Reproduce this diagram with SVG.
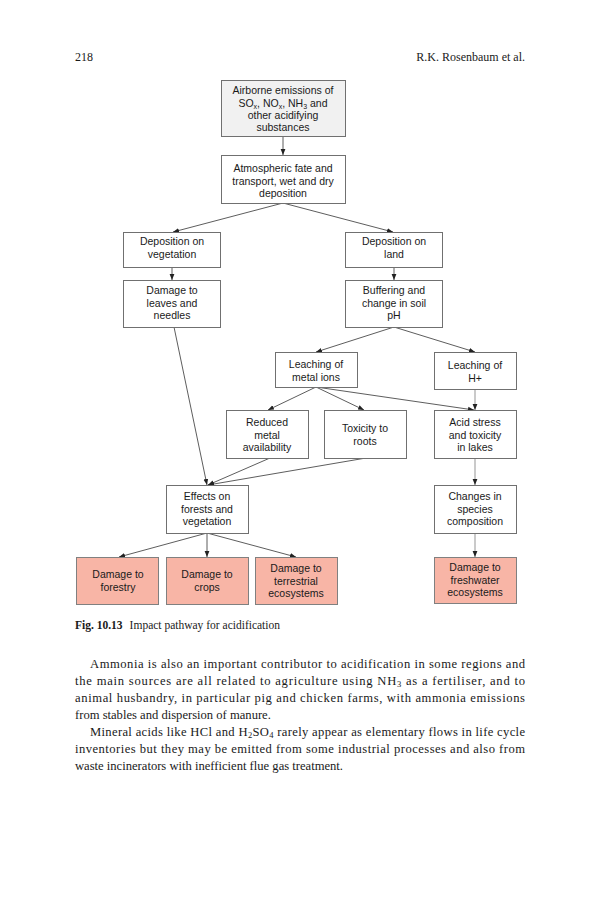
<svg xmlns="http://www.w3.org/2000/svg" width="593" height="900" viewBox="0 0 593 900">
<defs>
<marker id="ah" viewBox="0 0 6 6" refX="6" refY="3" markerWidth="6" markerHeight="6" markerUnits="userSpaceOnUse" orient="auto">
<path d="M0,0.6 L6,3 L0,5.4 Z" fill="#222"/>
</marker>
<style>
.bx{fill:#ffffff;stroke:#707070;stroke-width:1}
.gr{fill:#f1f1f1;stroke:#707070;stroke-width:1}
.pk{fill:#f8b5a6;stroke:#808080;stroke-width:1}
.t{font-family:"Liberation Sans",Arial,sans-serif;font-size:10.5px;fill:#1a1a1a;text-anchor:middle}
.c{fill:none;stroke:#333;stroke-width:0.8;marker-end:url(#ah)}
.g{fill:none;stroke:#bdbdbd;stroke-width:1.6;marker-end:url(#ah)}
.s{font-family:"Liberation Serif","Times New Roman",serif;fill:#1a1a1a}
</style>
</defs>
<rect width="593" height="900" fill="#ffffff"/>
<text class="s" x="75" y="61" font-size="12">218</text>
<text class="s" x="525" y="61" font-size="12" text-anchor="end">R.K. Rosenbaum et al.</text>

<g id="connectors">
<line class="c" x1="283" y1="137" x2="283" y2="155"/>
<line class="c" x1="283" y1="203" x2="173" y2="232"/>
<line class="c" x1="283" y1="203" x2="393" y2="232"/>
<line class="c" x1="172" y1="267" x2="172" y2="280"/>
<line class="c" x1="394" y1="267" x2="394" y2="280"/>
<line class="c" x1="174" y1="327" x2="207" y2="485"/>
<line class="c" x1="394" y1="327" x2="316" y2="352"/>
<line class="c" x1="394" y1="327" x2="475" y2="352"/>
<line class="c" x1="316" y1="387" x2="268" y2="410"/>
<line class="c" x1="316" y1="387" x2="364" y2="410"/>
<line class="c" x1="316" y1="387" x2="474" y2="410"/>
<line class="g" x1="475" y1="389" x2="475" y2="410"/>
<line class="c" x1="270" y1="458" x2="208" y2="485"/>
<line class="c" x1="366" y1="458" x2="208" y2="485"/>
<line class="g" x1="475" y1="458" x2="475" y2="485"/>
<line class="c" x1="207" y1="533" x2="119" y2="557"/>
<line class="c" x1="207" y1="533" x2="207" y2="557"/>
<line class="c" x1="207" y1="533" x2="296" y2="557"/>
<line class="g" x1="475" y1="533" x2="475" y2="557"/>
</g>

<g id="n1"><rect class="gr" x="221.5" y="80.5" width="124" height="56"/>
<text class="t" x="283" y="94">Airborne emissions of</text>
<text class="t" x="283" y="106.5">SO<tspan font-size="7" dy="2">x</tspan><tspan dy="-2">, NO</tspan><tspan font-size="7" dy="2">x</tspan><tspan dy="-2">, NH</tspan><tspan font-size="7" dy="2">3</tspan><tspan dy="-2"> and</tspan></text>
<text class="t" x="283" y="119">other acidifying</text>
<text class="t" x="283" y="131">substances</text></g>

<g id="n2"><rect class="bx" x="221.5" y="155.5" width="124" height="48"/>
<text class="t" x="283" y="172">Atmospheric fate  and</text>
<text class="t" x="283" y="184.5">transport, wet and dry</text>
<text class="t" x="283" y="197">deposition</text></g>

<g id="n3"><rect class="bx" x="123.5" y="232.5" width="97" height="35"/>
<text class="t" x="172" y="245">Deposition on</text>
<text class="t" x="172" y="258">vegetation</text></g>

<g id="n4"><rect class="bx" x="123.5" y="280.5" width="97" height="47"/>
<text class="t" x="172" y="294">Damage to</text>
<text class="t" x="172" y="306.5">leaves and</text>
<text class="t" x="172" y="319">needles</text></g>

<g id="n5"><rect class="bx" x="345.5" y="232.5" width="97" height="35"/>
<text class="t" x="394" y="245">Deposition on</text>
<text class="t" x="394" y="258">land</text></g>

<g id="n6"><rect class="bx" x="345.5" y="280.5" width="97" height="47"/>
<text class="t" x="394" y="294">Buffering and</text>
<text class="t" x="394" y="306.5">change in soil</text>
<text class="t" x="394" y="319">pH</text></g>

<g id="n7"><rect class="bx" x="275.5" y="352.5" width="82" height="35"/>
<text class="t" x="316" y="368">Leaching of</text>
<text class="t" x="316" y="381">metal ions</text></g>

<g id="n8"><rect class="bx" x="434.5" y="352.5" width="82" height="37"/>
<text class="t" x="475" y="369">Leaching of</text>
<text class="t" x="475" y="382">H+</text></g>

<g id="n9"><rect class="bx" x="226.5" y="410.5" width="82" height="48"/>
<text class="t" x="267" y="426">Reduced</text>
<text class="t" x="267" y="438.5">metal</text>
<text class="t" x="267" y="451">availability</text></g>

<g id="n10"><rect class="bx" x="324.5" y="410.5" width="82" height="48"/>
<text class="t" x="365" y="432">Toxicity to</text>
<text class="t" x="365" y="445">roots</text></g>

<g id="n11"><rect class="bx" x="434.5" y="410.5" width="82" height="48"/>
<text class="t" x="475" y="426">Acid stress</text>
<text class="t" x="475" y="438.5">and toxicity</text>
<text class="t" x="475" y="451">in lakes</text></g>

<g id="n12"><rect class="bx" x="166.5" y="485.5" width="82" height="48"/>
<text class="t" x="207" y="500">Effects on</text>
<text class="t" x="207" y="512.5">forests and</text>
<text class="t" x="207" y="525">vegetation</text></g>

<g id="n13"><rect class="bx" x="434.5" y="485.5" width="82" height="48"/>
<text class="t" x="475" y="500">Changes in</text>
<text class="t" x="475" y="512.5">species</text>
<text class="t" x="475" y="525">composition</text></g>

<g id="n14"><rect class="pk" x="76.5" y="557.5" width="82" height="47"/>
<text class="t" x="118" y="578">Damage to</text>
<text class="t" x="118" y="591">forestry</text></g>

<g id="n15"><rect class="pk" x="166.5" y="557.5" width="82" height="47"/>
<text class="t" x="207" y="578">Damage to</text>
<text class="t" x="207" y="591">crops</text></g>

<g id="n16"><rect class="pk" x="255.5" y="557.5" width="82" height="47"/>
<text class="t" x="296" y="572">Damage to</text>
<text class="t" x="296" y="584.5">terrestrial</text>
<text class="t" x="296" y="597">ecosystems</text></g>

<g id="n17"><rect class="pk" x="434.5" y="557.5" width="82" height="46"/>
<text class="t" x="475" y="571">Damage to</text>
<text class="t" x="475" y="583.5">freshwater</text>
<text class="t" x="475" y="596">ecosystems</text></g>

<text class="s" x="75" y="629" font-size="11.5"><tspan font-weight="bold">Fig. 10.13</tspan><tspan dx="7">Impact pathway for acidification</tspan></text>

<g class="s" font-size="12.6">
<text x="90" y="668" textLength="435" lengthAdjust="spacing">Ammonia is also an important contributor to acidification in some regions and</text>
<text x="75" y="685" textLength="450" lengthAdjust="spacing">the main sources are all related to agriculture using NH<tspan font-size="8.5" dy="2">3</tspan><tspan dy="-2"> as a fertiliser, and to</tspan></text>
<text x="75" y="702" textLength="450" lengthAdjust="spacing">animal husbandry, in particular pig and chicken farms, with ammonia emissions</text>
<text x="75" y="719">from stables and dispersion of manure.</text>
<text x="90" y="736" textLength="435" lengthAdjust="spacing">Mineral acids like HCl and H<tspan font-size="8.5" dy="2">2</tspan><tspan dy="-2">SO</tspan><tspan font-size="8.5" dy="2">4</tspan><tspan dy="-2"> rarely appear as elementary flows in life cycle</tspan></text>
<text x="75" y="753" textLength="450" lengthAdjust="spacing">inventories but they may be emitted from some industrial processes and also from</text>
<text x="75" y="770">waste incinerators with inefficient flue gas treatment.</text>
</g>
</svg>
